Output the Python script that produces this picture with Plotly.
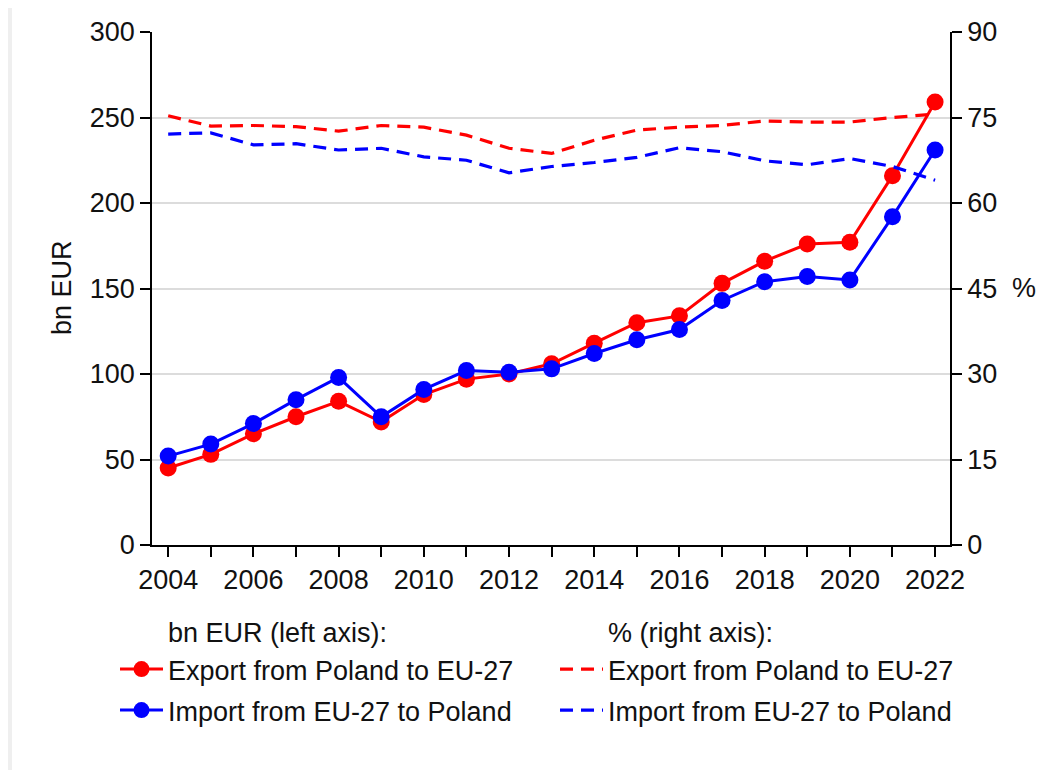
import plotly.graph_objects as go

years = list(range(2004, 2023))
export_bn = [45, 53, 65, 75, 84, 72, 88, 97, 100, 106, 118, 130, 134, 153, 166, 176, 177, 216, 259]
import_bn = [52, 59, 71, 85, 98, 75, 91, 102, 101, 103, 112, 120, 126, 143, 154, 157, 155, 192, 231]
export_pct = [75.3, 73.5, 73.6, 73.4, 72.6, 73.6, 73.3, 71.9, 69.6, 68.7, 71.0, 72.8, 73.3, 73.6, 74.4, 74.2, 74.2, 75.0, 75.6]
import_pct = [72.1, 72.3, 70.2, 70.4, 69.3, 69.6, 68.1, 67.5, 65.3, 66.4, 67.1, 68.0, 69.7, 69.0, 67.4, 66.7, 67.8, 66.4, 64.0]

series_names = ["Export from Poland to EU-27", "Import from EU-27 to Poland"]
left_ticks = [0, 50, 100, 150, 200, 250, 300]
right_ticks = [0, 15, 30, 45, 60, 75, 90]
x_ticktext = [str(y) if y % 2 == 0 else "" for y in years]

RED = "#ff0000"
BLUE = "#0000ff"
FONT = "Liberation Sans, Arial, sans-serif"
FS = 27

# page body has an 8px default margin; compensate so screen coords match
OFF = 8
W, H = 1055 - OFF, 770 - OFF
L, R, T, B = 144, 105, 24, 225
pw, ph = W - L - R, H - T - B


def fx(sx):
    return (sx - OFF - L) / pw


def fy(sy):
    return (H - B - (sy - OFF)) / ph


fig = go.Figure()

fig.add_trace(go.Scatter(x=years, y=export_pct, yaxis="y2", mode="lines",
                         line=dict(color=RED, width=3.2, dash="13px,8px"),
                         name=series_names[0], legend="legend3"))
fig.add_trace(go.Scatter(x=years, y=import_pct, yaxis="y2", mode="lines",
                         line=dict(color=BLUE, width=3.2, dash="13px,8px"),
                         name=series_names[1], legend="legend4"))
fig.add_trace(go.Scatter(x=years, y=export_bn, mode="lines+markers",
                         line=dict(color=RED, width=3),
                         marker=dict(color=RED, size=17),
                         name=series_names[0], legend="legend"))
fig.add_trace(go.Scatter(x=years, y=import_bn, mode="lines+markers",
                         line=dict(color=BLUE, width=3),
                         marker=dict(color=BLUE, size=17),
                         name=series_names[1], legend="legend2"))


def leg(sx, sy_center):
    return dict(x=fx(sx), y=fy(sy_center - 27), xanchor="left", yanchor="top",
                bgcolor="rgba(0,0,0,0)", font=dict(size=FS), itemwidth=43)


fig.update_layout(
    width=W, height=H,
    margin=dict(l=L, r=R, t=T, b=B, autoexpand=False),
    paper_bgcolor="#efefef",
    plot_bgcolor="white",
    font=dict(family=FONT, size=FS, color="#111111"),
    xaxis=dict(range=[2003.62, 2022.35], tickmode="array", tickvals=years, ticktext=x_ticktext,
               ticks="outside", ticklen=10, tickwidth=1.5, tickcolor="black",
               showline=True, linecolor="black", linewidth=1.5, showgrid=False, zeroline=False,
               tickfont=dict(size=FS)),
    yaxis=dict(range=[0, 300], tickvals=left_ticks, ticks="outside", ticklen=10, tickwidth=1.5,
               tickcolor="black", showline=True, linecolor="black", linewidth=1.5,
               showgrid=True, gridcolor="#dcdcdc", gridwidth=2, zeroline=False,
               tickfont=dict(size=FS)),
    yaxis2=dict(range=[0, 90], tickvals=right_ticks, overlaying="y", side="right",
                ticks="outside", ticklen=10, tickwidth=1.5, tickcolor="black",
                showline=True, linecolor="black", linewidth=1.5, showgrid=False, zeroline=False,
                tickfont=dict(size=FS)),
    legend=leg(115, 672),
    legend2=leg(115, 713),
    legend3=leg(555, 672),
    legend4=leg(555, 713),
    shapes=[dict(type="rect", xref="paper", yref="paper", x0=fx(12), x1=fx(1080), y0=fy(800), y1=fy(3),
                 fillcolor="white", line=dict(width=0), layer="below")],
    annotations=[
        dict(text="bn EUR (left axis):", x=fx(166), y=fy(633), xref="paper", yref="paper",
             xanchor="left", yanchor="middle", showarrow=False, font=dict(size=FS)),
        dict(text="% (right axis):", x=fx(606), y=fy(633), xref="paper", yref="paper",
             xanchor="left", yanchor="middle", showarrow=False, font=dict(size=FS)),
        dict(text="bn EUR", x=fx(62), y=fy(288), xref="paper", yref="paper", textangle=-90,
             xanchor="center", yanchor="middle", showarrow=False, font=dict(size=FS)),
        dict(text="%", x=fx(1010), y=fy(288), xref="paper", yref="paper",
             xanchor="left", yanchor="middle", showarrow=False, font=dict(size=FS)),
    ],
    showlegend=True,
)

fig.write_html("out.html")
